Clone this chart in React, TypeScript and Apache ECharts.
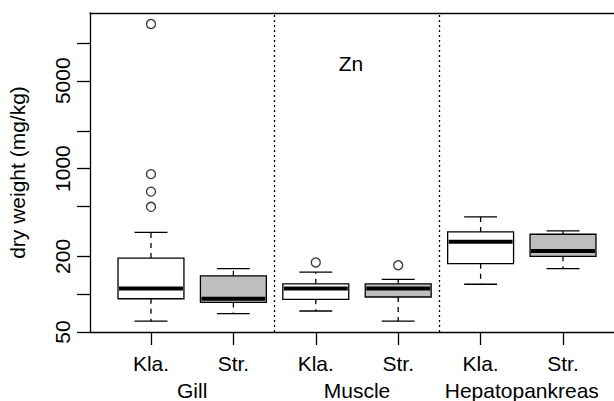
import React, { useEffect, useRef } from "react";
import * as echarts from "echarts";

const categories = ["Kla.", "Str.", "Kla.", "Str.", "Kla.", "Str."];
const groups = ["Gill", "Muscle", "Hepatopankreas"];
const groupPositions = [1.5, 3.5, 5.5];
const mins = [61, 70, 73.5, 61, 120, 160];
const q1s = [92, 86, 91, 95, 175, 200];
const medians = [111, 92, 111, 111, 261, 221];
const q3s = [194, 140, 121, 121, 313, 300];
const maxs = [310, 160, 150, 131, 412, 319];
const outlierBox = [1, 1, 1, 1, 3, 4];
const outlierValues = [496, 655, 903, 14150, 179, 170];
const separators = [2.5, 4.5];
const yTickValues = [50, 100, 200, 500, 1000, 2000, 5000, 10000];
const yLabelValues = [50, 200, 1000, 5000];
const title = "Zn";
const yTitle = "dry weight (mg/kg)";

const FONT = "'Liberation Sans', Arial, Helvetica, sans-serif";
const FS = 21;
const lg = (v: number) => Math.log10(v);

export default function App() {
  const ref = useRef<HTMLDivElement>(null);
  useEffect(() => {
    if (!ref.current) return;
    const chart = echarts.init(ref.current, null, { renderer: "svg" });
    const boxData = categories.map((_, i) => [
      i + 1,
      lg(mins[i]),
      lg(q1s[i]),
      lg(medians[i]),
      lg(q3s[i]),
      lg(maxs[i]),
    ]);
    const outData = outlierBox.map((b, i) => [b, lg(outlierValues[i])]);
    const lw = 1.3;
    const axisLineStyle = { color: "#000", width: lw };
    const option: any = {
      animation: false,
      textStyle: { fontFamily: FONT },
      grid: { left: 90, top: 13, width: 534, height: 319, show: false, containLabel: false, outerBoundsMode: "none" },
      xAxis: [
        {
          type: "value", position: "bottom", min: 0.26, max: 6.74,
          splitLine: { show: false },
          axisLine: { show: true, onZero: false, lineStyle: axisLineStyle },
          axisTick: { show: true, length: 13, inside: false, customValues: categories.map((_, i) => i + 1), lineStyle: axisLineStyle },
          axisLabel: { customValues: categories.map((_, i) => i + 1), formatter: (v: number) => categories[Math.round(v) - 1] ?? "", margin: 21, fontSize: FS, color: "#000", fontFamily: FONT },
        },
        {
          type: "value", position: "bottom", min: 0.26, max: 6.74,
          splitLine: { show: false }, axisLine: { show: false }, axisTick: { show: false },
          axisLabel: { customValues: groupPositions, formatter: (v: number) => groups[groupPositions.indexOf(v)] ?? "", margin: 48, fontSize: FS, color: "#000", fontFamily: FONT },
        },
        {
          type: "value", position: "top", min: 0.26, max: 6.74,
          splitLine: { show: false }, axisLine: { show: true, onZero: false, lineStyle: axisLineStyle },
          axisTick: { show: false }, axisLabel: { show: false },
        },
      ],
      yAxis: {
        type: "value", min: lg(50), max: 4.2384,
        splitLine: { show: false },
        axisLine: { show: true, onZero: false, lineStyle: axisLineStyle },
        axisTick: { show: true, length: 13, customValues: yTickValues.map(lg), lineStyle: axisLineStyle },
        axisLabel: { customValues: yLabelValues.map(lg), formatter: (v: number) => String(Math.round(Math.pow(10, v))), rotate: 90, margin: 17, fontSize: FS, color: "#000", fontFamily: FONT },
        name: yTitle, nameLocation: "middle", nameGap: 62,
        nameTextStyle: { fontSize: FS, color: "#000", fontFamily: FONT },
      },
      graphic: [
        { type: "text", x: 351, y: 63, style: { text: title, fontSize: FS, fill: "#000", fontFamily: FONT, textAlign: "center", textVerticalAlign: "middle" } },
      ],
      series: [
        {
          type: "custom", xAxisIndex: 0, encode: { x: 0, y: [1, 2, 3, 4, 5] }, data: boxData,
          renderItem: (params: any, api: any) => {
            const x = api.value(0);
            const lo = api.coord([x, api.value(1)]);
            const q1 = api.coord([x, api.value(2)]);
            const md = api.coord([x, api.value(3)]);
            const q3 = api.coord([x, api.value(4)]);
            const hi = api.coord([x, api.value(5)]);
            const hw = api.size([0.4, 0])[0];
            const cw = api.size([0.2, 0])[0];
            const cx = lo[0];
            const fill = params.dataIndex % 2 === 0 ? "#ffffff" : "#bebebe";
            const st = { stroke: "#000", lineWidth: lw };
            return {
              type: "group",
              children: [
                { type: "line", shape: { x1: cx, y1: q3[1], x2: cx, y2: hi[1] }, style: { ...st, lineDash: [5, 5] } },
                { type: "line", shape: { x1: cx, y1: q1[1], x2: cx, y2: lo[1] }, style: { ...st, lineDash: [5, 5] } },
                { type: "line", shape: { x1: cx - cw, y1: hi[1], x2: cx + cw, y2: hi[1] }, style: st },
                { type: "line", shape: { x1: cx - cw, y1: lo[1], x2: cx + cw, y2: lo[1] }, style: st },
                { type: "rect", shape: { x: cx - hw, y: q3[1], width: 2 * hw, height: q1[1] - q3[1] }, style: { ...st, fill } },
                { type: "line", shape: { x1: cx - hw + 1, y1: md[1], x2: cx + hw - 1, y2: md[1] }, style: { stroke: "#000", lineWidth: 4 } },
              ],
            };
          },
        },
        {
          type: "scatter", xAxisIndex: 0, data: outData, symbol: "circle", symbolSize: 9,
          itemStyle: { color: "rgba(0,0,0,0)", borderColor: "#000", borderWidth: lw },
          markLine: { silent: true, symbol: ["none", "none"], label: { show: false }, lineStyle: { color: "#000", type: [2, 3], width: lw }, data: separators.map((s) => ({ xAxis: s })) },
        },
      ],
    };
    chart.setOption(option);
    return () => chart.dispose();
  }, []);
  return (
    <div style={{ position: "absolute", left: 0, top: 0, width: 614, height: 401, overflow: "hidden" }}>
      <div ref={ref} style={{ position: "absolute", left: 0, top: 0, width: 640, height: 401 }} />
    </div>
  );
}
